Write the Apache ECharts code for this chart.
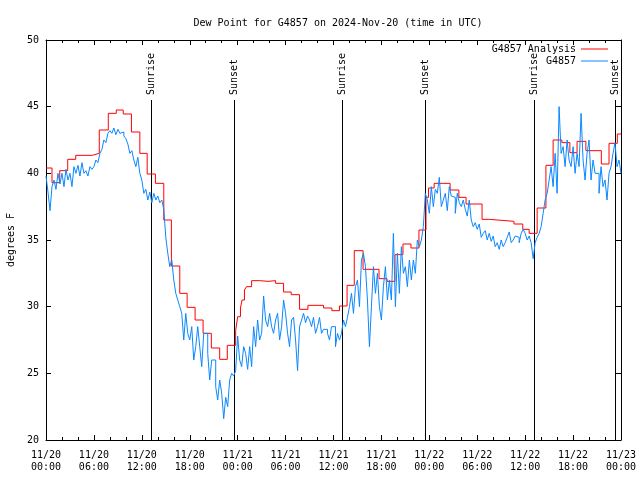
<!DOCTYPE html>
<html><head><meta charset="utf-8">
<script src="https://cdn.jsdelivr.net/npm/echarts@6/dist/echarts.min.js"></script>
<style>html,body{margin:0;padding:0;background:#fff}#c{width:640px;height:480px}</style>
</head><body><div id="c"></div>
<script>
const chartTitle = 'Dew Point for G4857 on 2024-Nov-20 (time in UTC)';
const yAxisName = 'degrees F';
const xTickLabels = ['11/20\n00:00','11/20\n06:00','11/20\n12:00','11/20\n18:00','11/21\n00:00','11/21\n06:00','11/21\n12:00','11/21\n18:00','11/22\n00:00','11/22\n06:00','11/22\n12:00','11/22\n18:00','11/23\n00:00'];
const seriesNames = ['G4857 Analysis', 'G4857'];
// analysis: hours since 11/20 00:00 UTC where each value starts
const analysisHours = [0,0.75,1.72,2.72,3.72,5.8,6.67,7.8,8.8,9.67,10.7,11.75,12.67,13.7,14.75,15.7,16.75,17.67,18.67,19.67,20.7,21.75,22.7,23.75,24.0,24.35,24.55,24.85,25.1,25.75,26.75,27.8,28.75,29.75,30.7,31.75,32.8,34.75,35.8,36.75,37.7,38.6,39.7,41.7,42.7,43.7,44.7,45.7,46.7,47.58,47.9,48.6,50.6,51.7,52.6,54.6,55.5,58.6,59.7,60.5,61.5,62.6,63.5,64.6,65.6,66.5,67.6,69.54,70.5,71.54,72];
const analysisValues = [40.4,39.3,40.2,41.05,41.35,41.5,43.25,44.5,44.75,44.45,43.1,41.5,39.95,39.25,36.5,33.05,31.0,29.95,29.0,28.0,26.9,26.05,27.1,28.2,29.25,29.9,30.5,31.25,31.5,31.95,31.9,31.95,31.75,31.1,30.9,29.8,30.1,29.9,29.7,30.05,31.6,34.2,32.8,32.1,31.9,33.9,34.7,34.4,35.75,38.2,38.9,39.25,38.75,38.2,37.7,36.55,36.4,36.2,35.8,35.5,37.4,40.6,42.5,42.3,41.55,42.4,41.7,40.7,42.25,42.95,42.95];
// observations every 15 minutes from 11/20 00:00 UTC
const obsStepHours = 0.25;
const obsValues = [
39.8,38.6,37.2,39.0, 39.5,38.8,40.0,39.2, 40.0,39.0,40.3,39.5, 40.0,39.0,40.5,40.0,
40.6,39.8,40.8,40.0, 40.2,39.8,40.5,40.3, 40.5,41.0,40.8,41.5, 41.8,42.5,42.3,43.0,
43.2,43.0,43.4,42.9, 43.3,43.0,43.1,42.8, 42.6,42.2,41.5,41.7, 41.0,40.5,41.2,40.0,
39.5,38.5,38.8,38.0, 38.6,37.8,38.5,38.0, 38.3,37.8,38.0,37.3, 35.2,34.0,33.0,33.5,
32.0,31.0,30.5,30.0, 29.5,27.5,29.5,28.0, 27.5,28.5,26.0,27.0, 28.5,27.0,25.5,28.0,
28.0,26.5,24.5,26.0, 26.0,24.0,23.0,24.5, 23.5,21.6,23.2,22.5, 24.5,25.0,24.8,25.2,
27.8,26.0,25.5,27.0, 26.5,25.3,27.0,25.5, 28.5,27.0,29.0,27.5, 28.0,30.8,29.0,28.5,
29.5,28.5,28.0,29.0, 29.5,27.5,28.5,30.5, 29.5,28.0,27.0,29.0, 29.2,27.5,25.2,28.5,
29.0,29.5,28.8,29.3, 29.0,28.5,29.2,28.0, 28.5,29.2,28.0,28.3, 28.3,28.0,27.5,28.5,
28.5,27.0,28.0,27.5, 28.0,29.0,28.5,29.2, 30.0,31.0,29.5,31.5, 32.0,30.0,33.5,34.0,
33.0,30.5,27.0,30.0, 33.0,31.0,32.5,30.0, 29.0,31.5,33.0,30.5, 32.0,30.5,35.5,30.0,
34.0,31.0,34.5,32.5, 33.0,31.5,33.5,32.0, 33.5,32.5,35.0,34.5, 35.0,36.0,38.5,38.0,
37.0,39.0,37.5,38.8, 38.5,39.7,37.5,38.0, 38.5,37.2,39.0,38.3, 38.2,37.0,38.5,37.8,
37.5,38.0,37.3,36.8, 38.0,36.5,36.0,36.3, 35.8,36.2,35.2,35.5, 35.7,35.0,35.5,34.9,
35.3,34.5,34.8,34.3, 35.0,34.5,34.8,35.2, 35.6,34.8,35.0,35.3, 35.2,34.8,35.5,35.8,
35.5,35.0,35.3,34.8, 33.6,34.8,35.2,35.5, 36.0,37.0,38.0,38.5, 39.5,40.5,39.0,41.5,
38.5,45.0,41.5,42.0, 40.5,42.5,41.0,40.5, 42.0,40.0,41.5,40.5, 44.5,41.0,39.5,41.5,
42.5,39.5,41.0,40.0, 40.0,38.5,40.5,39.0, 39.5,38.0,40.0,40.5, 41.5,42.3,40.5,41.0,
40.0];
const sunHours = [13.1, 23.5, 37.1, 47.5, 61.1, 71.3];
const sunNames = ['Sunrise','Sunset','Sunrise','Sunset','Sunrise','Sunset'];

const FONT = 'DejaVu Sans Mono';
const chart = echarts.init(document.getElementById('c'), null, {renderer:'canvas'});
const tickCommon = {inside:true, length:5, lineStyle:{color:'#000', width:1}};
const minorCommon = {show:true, splitNumber:3, length:3, lineStyle:{color:'#000', width:1}};
const lineCommon = {show:true, onZero:false, lineStyle:{color:'#000', width:1}};
const labelStyle = {fontFamily:FONT, fontSize:10, color:'#000'};

chart.setOption({
  animation:false,
  backgroundColor:'#fff',
  title:{text:chartTitle, left:333, textAlign:'center', top:13,
    textStyle:{fontFamily:FONT, fontSize:10, fontWeight:'normal', color:'#000'}},
  grid:{left:46, right:19, top:40, bottom:40, containLabel:false, outerBoundsMode:'none'},
  legend:{data:seriesNames, orient:'vertical', right:32, top:44, align:'right', icon:'rect',
    itemWidth:27, itemHeight:1, itemGap:2, selectedMode:false, padding:0,
    textStyle:{fontFamily:FONT, fontSize:10, color:'#000'}},
  xAxis:[
    {type:'value', min:0, max:72, interval:6, position:'bottom', axisLine:lineCommon,
     axisTick:tickCommon, minorTick:minorCommon, splitLine:{show:false}, minorSplitLine:{show:false},
     axisLabel:Object.assign({formatter:v => xTickLabels[Math.round(v/6)], lineHeight:12, margin:9}, labelStyle)},
    {type:'value', min:0, max:72, interval:6, position:'top', axisLine:lineCommon,
     axisTick:tickCommon, minorTick:minorCommon, splitLine:{show:false}, axisLabel:{show:false}}
  ],
  yAxis:[
    {type:'value', min:20, max:50, interval:5, position:'left', axisLine:lineCommon,
     axisTick:tickCommon, splitLine:{show:false},
     name:yAxisName, nameLocation:'middle', nameRotate:90, nameGap:30,
     nameTextStyle:{fontFamily:FONT, fontSize:10, color:'#000'},
     axisLabel:Object.assign({margin:7}, labelStyle)},
    {type:'value', min:20, max:50, interval:5, position:'right', axisLine:lineCommon,
     axisTick:tickCommon, splitLine:{show:false}, axisLabel:{show:false}}
  ],
  series:[
    {type:'custom', name:'sun', silent:true, data:sunHours.map(h => [h, 45.5]),
     encode:{x:0, y:1}, z:1,
     renderItem:function(params, api){
       const h = api.value(0);
       const p0 = api.coord([h, 20]);
       const p1 = api.coord([h, api.value(1)]);
       const x = Math.round(p0[0]) + 0.5;
       return {type:'group', children:[
         {type:'line', shape:{x1:x, y1:p0[1], x2:x, y2:p1[1]}, style:{stroke:'#000', lineWidth:1}},
         {type:'text', x:x, y:p1[1]-5, rotation:Math.PI/2,
          style:{text:sunNames[params.dataIndex], fontFamily:FONT, fontSize:10, fill:'#000', align:'left', verticalAlign:'middle'}}
       ]};
     }},
    {type:'line', name:seriesNames[0], step:'end', showSymbol:false, symbol:'none', z:2,
     color:'#ff0000', lineStyle:{color:'#ff0000', width:1},
     data:analysisHours.map((h, i) => [h, analysisValues[i]])},
    {type:'line', name:seriesNames[1], step:'end', showSymbol:false, symbol:'none', z:3,
     color:'#0a88ff', lineStyle:{color:'#0a88ff', width:1},
     data:obsValues.map((v, i) => [i * obsStepHours, v])}
  ]
});
</script></body></html>
